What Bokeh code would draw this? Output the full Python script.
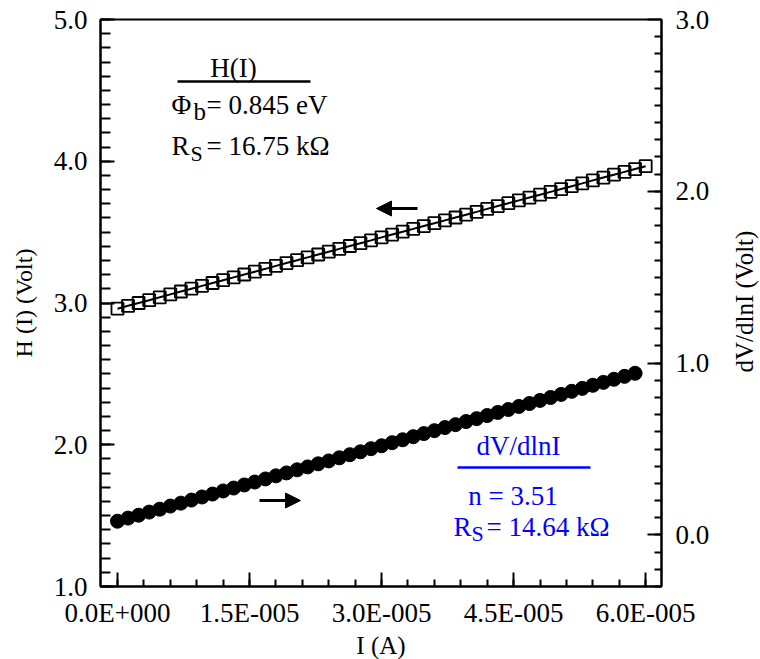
from bokeh.plotting import figure
from bokeh.models import (Range1d, LinearAxis, FixedTicker, CustomJSTickFormatter,
                          Label, Arrow, NormalHead)
from bokeh.layouts import row
from bokeh.embed import file_html
from bokeh.resources import INLINE

# ---------------- data ----------------
I_uA = [0.0, 1.2, 2.4, 3.6, 4.8, 6.0, 7.2, 8.4, 9.6, 10.8, 12.0, 13.2, 14.4, 15.6, 16.8,
        18.0, 19.2, 20.4, 21.6, 22.8, 24.0, 25.2, 26.4, 27.6, 28.8, 30.0, 31.2, 32.4, 33.6,
        34.8, 36.0, 37.2, 38.4, 39.6, 40.8, 42.0, 43.2, 44.4, 45.6, 46.8, 48.0, 49.2, 50.4,
        51.6, 52.8, 54.0, 55.2, 56.4, 57.6, 58.8, 60.0]
H_volt = [2.960, 2.980, 3.000, 3.020, 3.040, 3.061, 3.081, 3.101, 3.121, 3.141, 3.161,
          3.181, 3.201, 3.221, 3.241, 3.262, 3.282, 3.302, 3.322, 3.342, 3.362, 3.382,
          3.402, 3.422, 3.442, 3.463, 3.483, 3.503, 3.523, 3.543, 3.563, 3.583, 3.603,
          3.623, 3.643, 3.664, 3.684, 3.704, 3.724, 3.744, 3.764, 3.784, 3.804, 3.824,
          3.844, 3.865, 3.885, 3.905, 3.925, 3.945, 3.965]
I_d_uA = I_uA[:50]
dVdlnI = [0.080, 0.098, 0.115, 0.133, 0.150, 0.168, 0.185, 0.203, 0.221, 0.238, 0.256,
          0.273, 0.291, 0.308, 0.326, 0.344, 0.361, 0.379, 0.396, 0.414, 0.431, 0.449,
          0.467, 0.484, 0.502, 0.519, 0.537, 0.554, 0.572, 0.590, 0.607, 0.625, 0.642,
          0.660, 0.677, 0.695, 0.713, 0.730, 0.748, 0.765, 0.783, 0.800, 0.818, 0.836,
          0.853, 0.871, 0.888, 0.906, 0.923, 0.941]

X_TICKS = [0.0, 1.5e-5, 3.0e-5, 4.5e-5, 6.0e-5]
X_TICK_LABELS = ["0.0E+000", "1.5E-005", "3.0E-005", "4.5E-005", "6.0E-005"]
YL_TICKS = [1.0, 2.0, 3.0, 4.0, 5.0]
YL_TICK_LABELS = ["1.0", "2.0", "3.0", "4.0", "5.0"]
YR_TICKS = [0.0, 1.0, 2.0, 3.0]
YR_TICK_LABELS = ["0.0", "1.0", "2.0", "3.0"]

I_A = [v * 1e-6 for v in I_uA]
I_d_A = [v * 1e-6 for v in I_d_uA]

# ---------------- layout ----------------
FONT = "Liberation Serif"
X0, X1 = -1.93e-6, 6.18e-5
Y0, Y1 = 1.0, 5.0
R0, R1 = -0.3, 3.0
FL, FR, FT, FB = 100, 661, 19, 586
W, H = 760, 659
SIDE_W = 40
RIGHT_TITLE = "dV/dlnI (Volt)"


def xd(px):
    return X0 + (px - FL) / (FR - FL) * (X1 - X0)


def yd(py):
    return Y0 + (FB - py) / (FB - FT) * (Y1 - Y0)


p = figure(frame_width=FR - FL, frame_height=FB - FT,
           min_border_left=FL, min_border_right=W - FR - SIDE_W,
           min_border_top=FT, min_border_bottom=H - FB,
           x_range=Range1d(X0, X1), y_range=Range1d(Y0, Y1),
           output_backend="svg", toolbar_location=None,
           background_fill_color="white", border_fill_color="white")
p.extra_y_ranges = {"dv": Range1d(R0, R1)}
p.grid.visible = False
p.outline_line_color = "black"
p.outline_line_width = 2


def fmt(tks, lbls):
    return CustomJSTickFormatter(args=dict(tk=tks, lb=lbls), code="""
        let best = 0;
        for (let i = 0; i < tk.length; i++)
            if (Math.abs(tk[i] - tick) < Math.abs(tk[best] - tick)) best = i;
        return lb[best];
    """)


def style(ax, minor_in=8):
    ax.axis_line_width = 2
    ax.axis_line_color = "black"
    ax.major_tick_in = 14
    ax.major_tick_out = 0
    ax.minor_tick_in = minor_in
    ax.minor_tick_out = 0
    ax.major_tick_line_width = 2
    ax.minor_tick_line_width = 2
    ax.major_tick_line_color = "black"
    ax.minor_tick_line_color = "black"
    ax.major_label_text_font = FONT
    ax.major_label_text_font_size = "27px"
    ax.major_label_text_color = "black"
    ax.axis_label_text_font = FONT
    ax.axis_label_text_font_size = "25px"
    ax.axis_label_text_font_style = "normal"
    ax.axis_label_text_color = "black"


xax = p.xaxis[0]
xax.ticker = FixedTicker(ticks=X_TICKS,
                         minor_ticks=[k * 3e-6 for k in range(0, 21)])
xax.formatter = fmt(X_TICKS, X_TICK_LABELS)
xax.axis_label = "I (A)"
style(xax, minor_in=7)
xax.major_label_standoff = 11
xax.axis_label_standoff = 1

yax = p.yaxis[0]
yax.ticker = FixedTicker(ticks=YL_TICKS,
                         minor_ticks=[1.0 + k * 0.1 for k in range(0, 41)])
yax.formatter = fmt(YL_TICKS, YL_TICK_LABELS)
yax.axis_label = "H (I) (Volt)"
style(yax, minor_in=10)
yax.axis_label_text_font_size = "24px"
yax.major_label_standoff = 13
yax.axis_label_standoff = 14

rax = LinearAxis(y_range_name="dv",
                 ticker=FixedTicker(ticks=YR_TICKS,
                                    minor_ticks=[-0.3 + k * 0.1 for k in range(0, 34)]),
                 formatter=fmt(YR_TICKS, YR_TICK_LABELS))
style(rax, minor_in=7)
rax.major_label_standoff = 14
p.add_layout(rax, "right")

# ---------------- series ----------------
p.line(I_A, H_volt, line_color="black", line_width=2)
p.scatter(I_A, H_volt, marker="square", size=12, fill_color=None,
          line_color="black", line_width=1.8)
p.scatter(I_d_A, dVdlnI, marker="circle", size=14, fill_color="black",
          line_color="black", y_range_name="dv")

# ---------------- arrows ----------------
p.add_layout(Arrow(x_start=xd(417), y_start=yd(208), x_end=xd(376), y_end=yd(208),
                   line_width=3, line_color="black",
                   end=NormalHead(size=15, fill_color="black", line_color="black")))
p.add_layout(Arrow(x_start=xd(259), y_start=yd(500), x_end=xd(300), y_end=yd(500),
                   line_width=3, line_color="black",
                   end=NormalHead(size=15, fill_color="black", line_color="black")))


# ---------------- annotations ----------------
def lab(px, py, text, color="black", size="27px", align="left"):
    p.add_layout(Label(x=xd(px), y=yd(py), text=text, text_align=align,
                       text_baseline="middle", text_font=FONT,
                       text_font_size=size, text_color=color))


lab(233, 67.5, "H(I)", align="center")
p.segment(x0=[xd(177)], y0=[yd(81)], x1=[xd(310)], y1=[yd(81)],
          line_color="black", line_width=2.5)
lab(171, 104.8, "Φ")
lab(193, 110.5, "b", size="25px")
lab(206, 104.8, "= 0.845 eV")
lab(171, 145.5, "R")
lab(190, 152.5, "S", size="22px")
lab(206, 145.5, "= 16.75 kΩ")

BLUE = "#0000ff"
lab(518, 445.5, "dV/dlnI", color=BLUE, align="center")
p.segment(x0=[xd(457)], y0=[yd(467)], x1=[xd(590)], y1=[yd(467)],
          line_color=BLUE, line_width=2.5)
lab(512.5, 495, "n = 3.51", color=BLUE, align="center")
lab(453, 526, "R", color=BLUE)
lab(471, 532.5, "S", color=BLUE, size="22px")
lab(486, 526, "= 14.64 kΩ", color=BLUE)

# narrow strip on the right carrying the right-axis title (reads bottom-to-top)
side = figure(width=SIDE_W, height=H, x_range=Range1d(0, SIDE_W),
              y_range=Range1d(0, H), output_backend="svg",
              toolbar_location=None, min_border=0,
              x_axis_location=None, y_axis_location=None,
              background_fill_color="white", border_fill_color="white")
side.grid.visible = False
side.outline_line_color = None
side.add_layout(Label(x=744 - (W - SIDE_W), y=H - 305 - 24,
                      text=RIGHT_TITLE, angle=1.5708, text_align="center",
                      text_baseline="middle", text_font=FONT,
                      text_font_size="25px", text_color="black"))

root = row(p, side, spacing=0)
open("out.html", "w").write(file_html(root, INLINE))
